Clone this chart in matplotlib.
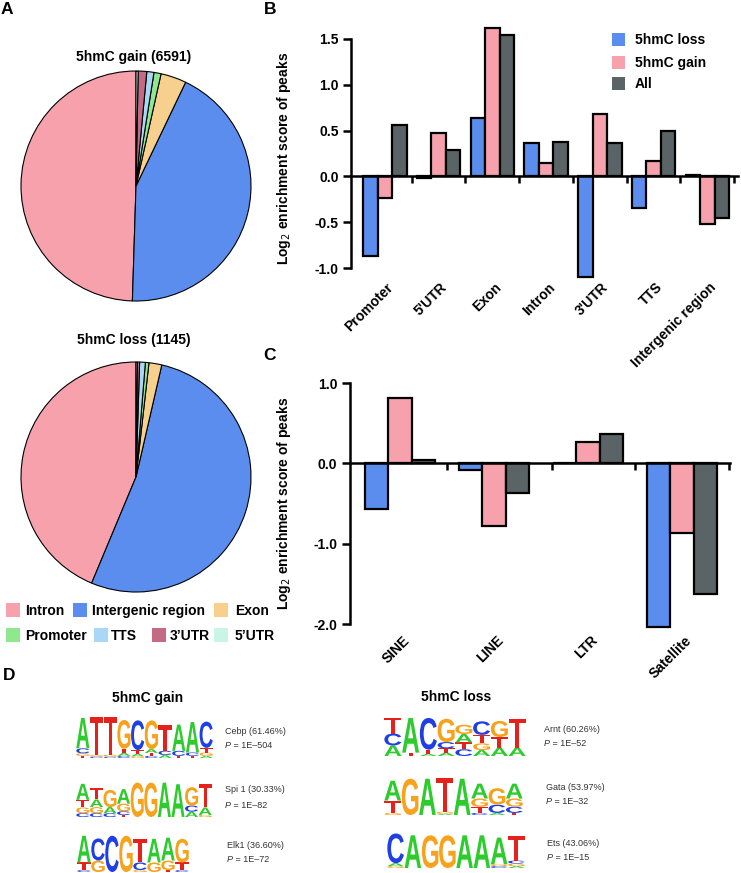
import matplotlib
matplotlib.use('Agg')
import matplotlib.pyplot as plt
from matplotlib.textpath import TextPath
from matplotlib.font_manager import FontProperties
from matplotlib.patches import PathPatch, Rectangle
from matplotlib.transforms import Affine2D, blended_transform_factory
import numpy as np

plt.rcParams['font.family'] = ['Liberation Sans', 'DejaVu Sans']

# ---------------- data ----------------
pie_labels = ['Intron', 'Intergenic region', 'Exon', 'Promoter', 'TTS', '3\u2019UTR', '5\u2019UTR']
pie_colors = ['#F7A1AD', '#5B8DEF', '#F8D08E', '#8EE88E', '#A8D8F5', '#C46A84', '#C8F5E6']
gain_pie = [49.5, 43.4, 3.6, 1.0, 1.0, 1.2, 0.3]
loss_pie = [43.7, 52.7, 1.8, 0.5, 0.8, 0.3, 0.2]

cats_B = ['Promoter', "5'UTR", 'Exon', 'Intron', "3'UTR", 'TTS', 'Intergenic region']
loss_B = [-0.87, -0.02, 0.64, 0.36, -1.10, -0.35, 0.02]
gain_B = [-0.24, 0.47, 1.62, 0.15, 0.68, 0.17, -0.52]
all_B = [0.56, 0.29, 1.54, 0.38, 0.36, 0.50, -0.45]
yticks_B = [-1.0, -0.5, 0.0, 0.5, 1.0, 1.5]

cats_C = ['SINE', 'LINE', 'LTR', 'Satellite']
loss_C = [-0.57, -0.08, 0.0, -2.04]
gain_C = [0.81, -0.78, 0.26, -0.87]
all_C = [0.04, -0.37, 0.36, -1.63]
yticks_C = [-2.0, -1.0, 0.0, 1.0]

series_names = ['5hmC loss', '5hmC gain', 'All']
series_colors = ['#5B8DEF', '#F7A1AD', '#5A6466']

# motif logos: per position, letter -> relative height
cebp = [{'T': 0.05, 'G': 0.06, 'C': 0.12, 'A': 0.72},
        {'C': 0.03, 'G': 0.04, 'T': 0.90},
        {'C': 0.03, 'G': 0.05, 'T': 0.88},
        {'C': 0.05, 'A': 0.07, 'T': 0.10, 'G': 0.68},
        {'G': 0.04, 'A': 0.06, 'T': 0.09, 'C': 0.70},
        {'C': 0.05, 'T': 0.07, 'A': 0.09, 'G': 0.68},
        {'A': 0.07, 'C': 0.10, 'T': 0.60},
        {'T': 0.05, 'A': 0.62, 'C': 0.12},
        {'T': 0.05, 'C': 0.08, 'A': 0.72},
        {'A': 0.05, 'G': 0.08, 'T': 0.11, 'C': 0.62}]
spi1 = [{'C': 0.10, 'G': 0.15, 'T': 0.20, 'A': 0.42},
        {'C': 0.10, 'G': 0.16, 'A': 0.20, 'T': 0.30},
        {'C': 0.10, 'A': 0.16, 'G': 0.45},
        {'T': 0.05, 'C': 0.10, 'G': 0.20, 'A': 0.38},
        {'G': 0.90},
        {'G': 0.90},
        {'A': 0.90},
        {'A': 0.86},
        {'A': 0.14, 'C': 0.16, 'G': 0.48},
        {'G': 0.05, 'A': 0.20, 'T': 0.62}]
elk1 = [{'C': 0.05, 'T': 0.20, 'A': 0.70},
        {'G': 0.30, 'C': 0.58},
        {'C': 0.95},
        {'G': 0.95},
        {'G': 0.05, 'C': 0.20, 'T': 0.62},
        {'G': 0.25, 'A': 0.62},
        {'T': 0.05, 'G': 0.25, 'A': 0.60},
        {'C': 0.05, 'T': 0.20, 'G': 0.62}]
arnt = [{'A': 0.25, 'C': 0.28, 'T': 0.38},
        {'T': 0.08, 'A': 0.82},
        {'A': 0.05, 'T': 0.10, 'C': 0.75},
        {'A': 0.08, 'T': 0.10, 'C': 0.15, 'G': 0.55},
        {'C': 0.16, 'T': 0.16, 'A': 0.20, 'G': 0.22},
        {'A': 0.14, 'G': 0.16, 'T': 0.20, 'C': 0.32},
        {'A': 0.20, 'T': 0.25, 'G': 0.38},
        {'A': 0.20, 'T': 0.68}]
gata = [{'G': 0.05, 'T': 0.30, 'A': 0.48},
        {'G': 0.88},
        {'A': 0.88},
        {'A': 0.03, 'G': 0.05, 'T': 0.82},
        {'A': 0.88},
        {'C': 0.05, 'T': 0.15, 'G': 0.20, 'A': 0.36},
        {'A': 0.05, 'C': 0.20, 'G': 0.40},
        {'T': 0.05, 'C': 0.15, 'G': 0.20, 'A': 0.36}]
ets = [{'G': 0.05, 'A': 0.08, 'C': 0.80},
       {'A': 0.88},
       {'G': 0.88},
       {'G': 0.88},
       {'A': 0.88},
       {'A': 0.88},
       {'C': 0.05, 'G': 0.05, 'A': 0.72},
       {'A': 0.05, 'G': 0.07, 'C': 0.08, 'T': 0.66}]

motif_names = ['Cebp (61.46%)', 'Spi 1 (30.33%)', 'Elk1 (36.60%)',
               'Arnt (60.26%)', 'Gata (53.97%)', 'Ets (43.06%)']
motif_pvals = ['1E\u2013504', '1E\u201382', '1E\u201372', '1E\u201352', '1E\u201332', '1E\u201315']

letter_colors = {'A': '#2DCB2D', 'C': '#1F3FE6', 'G': '#F7A21C', 'T': '#E6201B'}

# ---------------- figure ----------------
W, H = 741, 873
fig = plt.figure(figsize=(W / 100, H / 100), dpi=100)


def px_axes(l, t, r, b, **kw):
    return fig.add_axes([l / W, 1 - b / H, (r - l) / W, (b - t) / H], **kw)


ov = fig.add_axes([0, 0, 1, 1])
ov.set_xlim(0, W)
ov.set_ylim(H, 0)
ov.axis('off')

BOLD = dict(fontweight='bold')

# panel labels
for lab, x, y in [('A', 7, 10), ('B', 270, 10), ('C', 270, 355), ('D', 9, 675)]:
    ov.text(x, y, lab, fontsize=12.5, ha='center', va='center', **BOLD)

# ---------------- pies ----------------
for vals, title, (t, b), ty in [(gain_pie, '5hmC gain (6591)', (71, 301), 57),
                                (loss_pie, '5hmC loss (1145)', (362, 592), 340)]:
    ax = px_axes(21, t, 251, b)
    ax.pie(vals, colors=pie_colors, startangle=90, counterclock=True,
           wedgeprops={'edgecolor': 'black', 'linewidth': 0.8})
    ax.set_xlim(-1.0, 1.0)
    ax.set_ylim(-1.0, 1.0)
    ax.set_aspect('equal')
    ov.text(134, ty, title, fontsize=10, ha='center', va='center', **BOLD)

# pie legend
leg_pos = [(6, 610, 25), (73, 610, 92), (214, 610, 235),
           (6, 635, 25), (94, 635, 111), (152, 635, 170), (214, 635, 235)]
for (sx, sy, tx), lab, col in zip(leg_pos, pie_labels, pie_colors):
    ov.add_patch(Rectangle((sx, sy - 7), 14, 14, facecolor=col, edgecolor='none'))
    ov.text(tx, sy + 1, lab, fontsize=10, ha='left', va='center', **BOLD)


# ---------------- bar charts ----------------
def bar_panel(ax, cats, series, width, yticks, ylim, xlim, tick_x, lab_dx, lab_dy):
    n = len(cats)
    x = np.arange(n)
    for k, (vals, col) in enumerate(zip(series, series_colors)):
        ax.bar(x + (k - 1) * width, vals, width, color=col, edgecolor='black',
               linewidth=1.6, clip_on=False, zorder=3)
    ax.set_xlim(*xlim)
    ax.set_ylim(*ylim)
    for s in ['top', 'right']:
        ax.spines[s].set_visible(False)
    ax.spines['bottom'].set_position(('data', 0))
    ax.spines['left'].set_bounds(ylim[0], ylim[1])
    for s in ['bottom', 'left']:
        ax.spines[s].set_linewidth(1.8)
    ax.spines['bottom'].set_zorder(4)
    ax.set_yticks(yticks)
    ax.set_yticklabels(['%.1f' % v for v in yticks], fontsize=10, fontweight='bold')
    ax.set_xticks(tick_x)
    ax.set_xticklabels([])
    ax.tick_params(axis='y', direction='out', length=6, width=1.8, pad=3)
    ax.tick_params(axis='x', direction='out', length=5, width=1.8)
    ax.patch.set_alpha(0)
    tr = blended_transform_factory(ax.transData, ax.transAxes)
    for i, c in enumerate(cats):
        ax.text(i + lab_dx, lab_dy, c, transform=tr, rotation=45, ha='right', va='center',
                rotation_mode='anchor', fontsize=10, fontweight='bold')
    ax.set_ylabel('Log$_2$ enrichment score of peaks', fontsize=10, fontweight='bold')


axB = px_axes(351, 39, 738, 268)
bar_panel(axB, cats_B, [loss_B, gain_B, all_B], 0.27, yticks_B, (-1.0, 1.5), (-0.63, 6.57),
          np.arange(len(cats_B)) + 0.5, 0.12, -0.075)
axB.yaxis.set_label_coords(-0.15, 0.48)

for k, (name, col) in enumerate(zip(series_names, series_colors)):
    y = [39, 62, 83][k]
    ov.add_patch(Rectangle((612, y - 6.5), 13, 13, facecolor=col, edgecolor='none'))
    ov.text(635, y + 1, name, fontsize=10, ha='left', va='center', **BOLD)

axC = px_axes(350, 383, 730, 624)
bar_panel(axC, cats_C, [loss_C, gain_C, all_C], 0.25, yticks_C, (-2.0, 1.0), (-0.532, 3.51),
          [0.5, 1.62, 2.5, 3.5], 0.08, -0.06)
axC.yaxis.set_label_coords(-0.15, 0.50)

# ---------------- motif logos ----------------
LOGO_FP = FontProperties(family='Liberation Sans', weight='bold')
_paths = {}


def letter_path(ch):
    if ch not in _paths:
        _paths[ch] = TextPath((0, 0), ch, size=1, prop=LOGO_FP)
    return _paths[ch]


def draw_logo(ax, motif):
    n = len(motif)
    for i, pos in enumerate(motif):
        base = 0.0
        for ch, h in sorted(pos.items(), key=lambda kv: kv[1]):
            if h <= 0:
                continue
            tp = letter_path(ch)
            bb = tp.get_extents()
            tr = (Affine2D().translate(-bb.x0, -bb.y0)
                  .scale(0.96 / bb.width, h / bb.height)
                  .translate(i + 0.02, base))
            ax.add_patch(PathPatch(tr.transform_path(tp), facecolor=letter_colors[ch], lw=0))
            base += h
    ax.set_xlim(0, n)
    ax.set_ylim(0, 0.97)
    ax.axis('off')


logo_boxes = [(76, 717, 213, 758), (76, 780, 212, 817), (77, 835, 189, 872),
              (384, 715, 526, 756), (384, 775, 523, 815), (387, 832, 525, 868)]
text_pos = [(225, 731), (225, 790), (227, 845), (544, 729), (546, 787), (547, 843)]
for motif, box, (tx, ty), name, pv in zip([cebp, spi1, elk1, arnt, gata, ets], logo_boxes,
                                         text_pos, motif_names, motif_pvals):
    ax = px_axes(*box)
    draw_logo(ax, motif)
    ov.text(tx, ty, name, fontsize=6.5, ha='left', va='center', color='#333333')
    ov.text(tx, ty + 15, 'P', fontsize=6.5, ha='left', va='center', color='#333333', style='italic')
    ov.text(tx + 6, ty + 15, ' = ' + pv, fontsize=6.5, ha='left', va='center', color='#333333')

ov.text(148, 698, '5hmC gain', fontsize=10, ha='center', va='center', **BOLD)
ov.text(456, 697, '5hmC loss', fontsize=10, ha='center', va='center', **BOLD)

fig.savefig('out.png', dpi=100)
